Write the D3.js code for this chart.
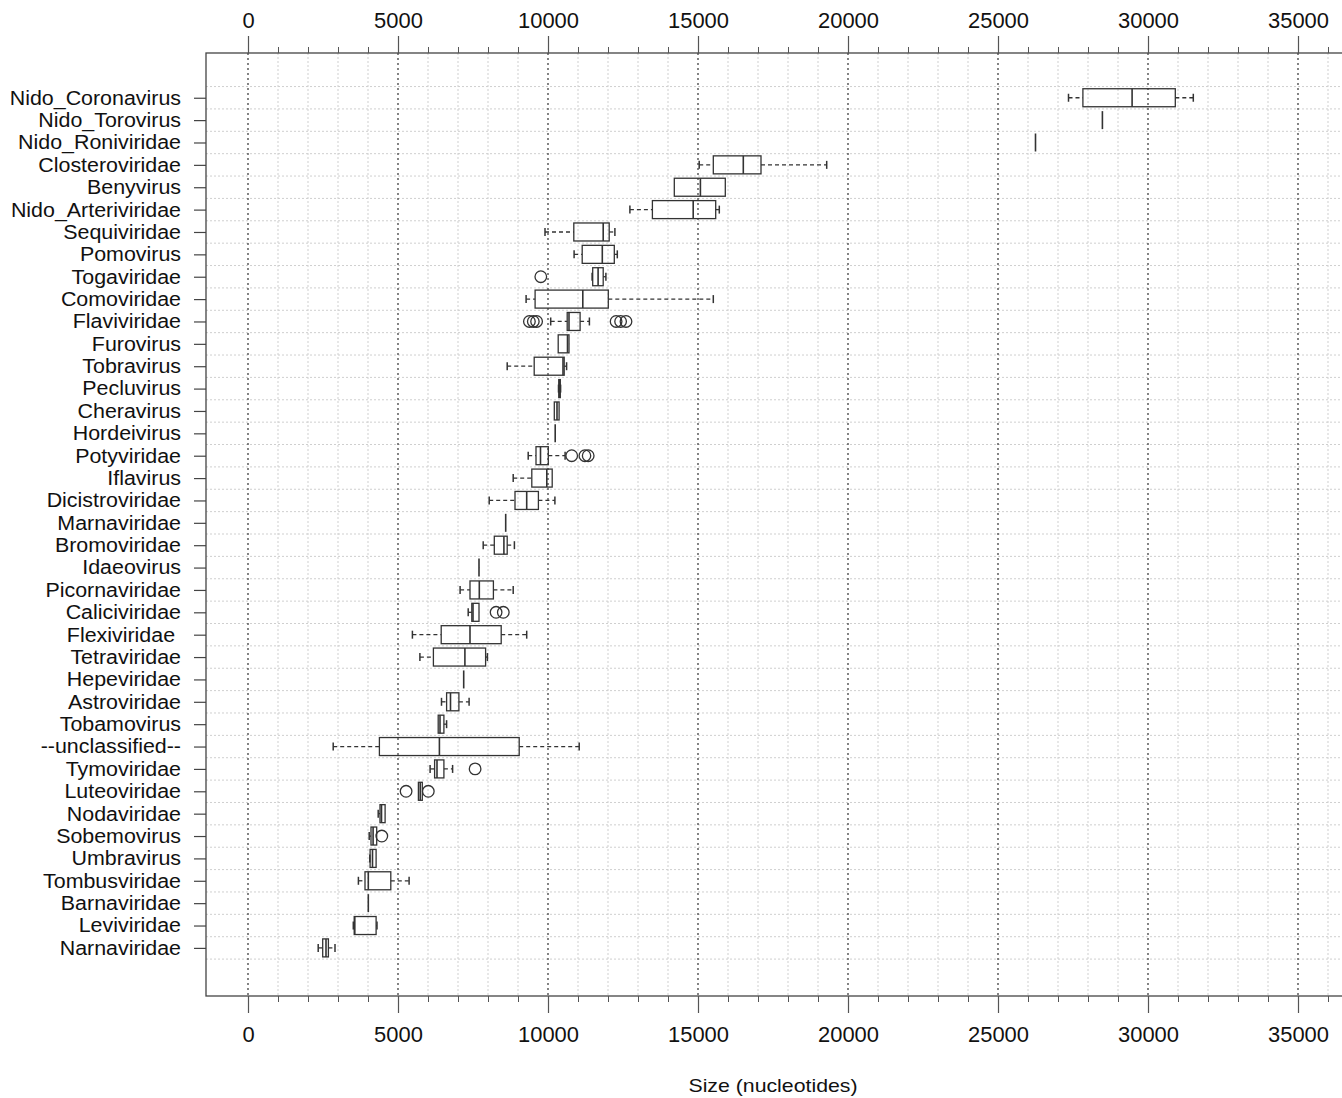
<!DOCTYPE html>
<html>
<head>
<meta charset="utf-8">
<script src="https://cdn.jsdelivr.net/npm/d3@7"></script>
<style>
  body { margin: 0; background: #fff; }
  text { font-family: "Liberation Sans", Arial, sans-serif; fill: #111; }
</style>
</head>
<body>
<script>
// categories, top to bottom
var families = ["Nido_Coronavirus", "Nido_Torovirus", "Nido_Roniviridae", "Closteroviridae", "Benyvirus",
  "Nido_Arteriviridae", "Sequiviridae", "Pomovirus", "Togaviridae", "Comoviridae", "Flaviviridae",
  "Furovirus", "Tobravirus", "Pecluvirus", "Cheravirus", "Hordeivirus", "Potyviridae", "Iflavirus",
  "Dicistroviridae", "Marnaviridae", "Bromoviridae", "Idaeovirus", "Picornaviridae", "Caliciviridae",
  "Flexiviridae ", "Tetraviridae", "Hepeviridae", "Astroviridae", "Tobamovirus", "--unclassified--",
  "Tymoviridae", "Luteoviridae", "Nodaviridae", "Sobemovirus", "Umbravirus", "Tombusviridae",
  "Barnaviridae", "Leviviridae", "Narnaviridae"];

// five-number summaries (nucleotides)
var lowWhisker = [27350, 28480, 26250, 15040, 14210, 12730, 9900, 10870, 11470, 9270, 10090,
  10340, 8640, 10350, 10210, 10240, 9340, 8840, 8040, 8590, 7840, 7700, 7070, 7340,
  5480, 5730, 7190, 6450, 6340, 2840, 6070, 5680, 4340, 4040, 4060, 3680,
  4010, 3510, 2340];
var q1 = [27830, 28480, 26250, 15510, 14210, 13480, 10860, 11140, 11490, 9570, 10640,
  10340, 9540, 10360, 10210, 10240, 9600, 9460, 8900, 8590, 8210, 7700, 7400, 7460,
  6440, 6180, 7190, 6620, 6340, 4380, 6220, 5680, 4400, 4100, 4070, 3900,
  4010, 3540, 2490];
var medians = [29470, 28480, 26250, 16510, 15080, 14840, 11840, 11810, 11670, 11160, 10700,
  10650, 10500, 10380, 10300, 10240, 9750, 9960, 9290, 8590, 8530, 7700, 7710, 7500,
  7400, 7230, 7190, 6750, 6400, 6380, 6300, 5740, 4450, 4170, 4150, 4010,
  4010, 3560, 2600];
var q3 = [30910, 28480, 26250, 17100, 15910, 15590, 12040, 12210, 11840, 12010, 11070,
  10700, 10540, 10410, 10370, 10240, 10010, 10140, 9680, 8590, 8640, 7700, 8180, 7700,
  8440, 7920, 7190, 7030, 6530, 9040, 6530, 5810, 4570, 4290, 4270, 4760,
  4010, 4270, 2680];
var highWhisker = [31510, 28480, 26250, 19290, 15910, 15710, 12230, 12310, 11930, 15510, 11380,
  10700, 10620, 10420, 10370, 10240, 10570, 10140, 10230, 8590, 8880, 7700, 8840, 7700,
  9290, 7980, 7190, 7370, 6620, 11040, 6820, 5810, 4570, 4290, 4270, 5370,
  4010, 4300, 2900];
// outliers per category
var outliers = [[], [], [], [], [], [], [], [], [9760], [], [9380, 9510, 9620, 12270, 12420, 12600],
  [], [], [], [], [], [10790, 11230, 11340], [], [], [], [], [], [], [8270, 8510],
  [], [], [], [], [], [], [7570], [5270, 6010], [], [4460], [], [],
  [], [], []];

var xTicks = [0, 5000, 10000, 15000, 20000, 25000, 30000, 35000];
var minorTicks = d3.range(0, 36001, 1000);

var W = 1342, H = 1098;
var plotL = 206, plotR = 1342, plotT = 53, plotB = 996;

var svg = d3.select("body").append("svg")
  .attr("width", W)
  .attr("height", H);

var x = d3.scaleLinear().domain([0, 35000]).range([248, 1298]);
var y = d3.scaleLinear().domain([-2.0, 40.15]).range([plotT, plotB]);

var idx = d3.range(families.length);

// stretch text a little wider, like the scanned figure
function widen(sel, k) {
  sel.each(function () {
    var w = this.getComputedTextLength();
    d3.select(this).attr("textLength", w * k).attr("lengthAdjust", "spacingAndGlyphs");
  });
}

// grid
var grid = svg.append("g");
grid.selectAll("line.vmin")
  .data(minorTicks.filter(function (d) { return d % 5000 != 0; }))
  .enter().append("line")
  .attr("x1", function (d) { return x(d); }).attr("x2", function (d) { return x(d); })
  .attr("y1", plotT).attr("y2", plotB)
  .attr("stroke", "#cfcfcf").attr("stroke-width", 1).attr("stroke-dasharray", "2,2");
grid.selectAll("line.h")
  .data(d3.range(families.length + 1))
  .enter().append("line")
  .attr("x1", plotL).attr("x2", plotR)
  .attr("y1", function (d) { return y(d - 0.5); }).attr("y2", function (d) { return y(d - 0.5); })
  .attr("stroke", "#cfcfcf").attr("stroke-width", 1).attr("stroke-dasharray", "2,2");
grid.selectAll("line.vmaj")
  .data(xTicks)
  .enter().append("line")
  .attr("x1", function (d) { return x(d); }).attr("x2", function (d) { return x(d); })
  .attr("y1", plotT).attr("y2", plotB)
  .attr("stroke", "#333").attr("stroke-width", 1.2).attr("stroke-dasharray", "2,3");

// frame
svg.append("rect")
  .attr("x", plotL).attr("y", plotT)
  .attr("width", plotR - plotL + 5).attr("height", plotB - plotT)
  .attr("fill", "none").attr("stroke", "#444").attr("stroke-width", 1.3);

// axes top and bottom
var topAxis = d3.axisTop(x).tickValues(xTicks).tickSize(17).tickPadding(8).tickFormat(d3.format("d"));
var botAxis = d3.axisBottom(x).tickValues(xTicks).tickSize(17).tickPadding(14).tickFormat(d3.format("d"));
var minorFilter = minorTicks.filter(function (d) { return d % 5000 != 0; });

var gTop = svg.append("g").attr("transform", "translate(0," + plotT + ")").call(topAxis);
var gBot = svg.append("g").attr("transform", "translate(0," + plotB + ")").call(botAxis);
[gTop, gBot].forEach(function (g) {
  g.select(".domain").remove();
  g.selectAll("line").attr("stroke", "#555").attr("stroke-width", 1.2);
  g.selectAll("text").style("font-size", "21.5px").style("font-family", "Liberation Sans, Arial, sans-serif").attr("fill", "#111");
  widen(g.selectAll("text"), 1.02);
});
svg.append("g").attr("transform", "translate(0," + plotT + ")")
  .call(d3.axisTop(x).tickValues(minorFilter).tickSize(6).tickFormat(""))
  .call(function (g) { g.select(".domain").remove(); g.selectAll("line").attr("stroke", "#555"); });
svg.append("g").attr("transform", "translate(0," + plotB + ")")
  .call(d3.axisBottom(x).tickValues(minorFilter).tickSize(6).tickFormat(""))
  .call(function (g) { g.select(".domain").remove(); g.selectAll("line").attr("stroke", "#555"); });

// left axis with family names
var yAxis = d3.axisLeft(y).tickValues(idx).tickSize(12).tickPadding(13)
  .tickFormat(function (i) { return families[i]; });
var gLeft = svg.append("g").attr("transform", "translate(" + plotL + ",0)").call(yAxis);
gLeft.select(".domain").remove();
gLeft.selectAll("line").attr("stroke", "#444").attr("stroke-width", 1.2);
gLeft.selectAll("text").style("font-size", "20px").style("font-family", "Liberation Sans, Arial, sans-serif")
  .attr("fill", "#111").style("white-space", "pre");
widen(gLeft.selectAll("text"), 1.07);

// boxes
var bh = 9, capH = 4;
var boxes = svg.append("g").attr("stroke", "#333").attr("fill", "none");
var grp = boxes.selectAll("g.box").data(idx).enter().append("g");

grp.append("line")   // lower whisker
  .attr("x1", function (i) { return x(lowWhisker[i]); }).attr("x2", function (i) { return x(q1[i]); })
  .attr("y1", function (i) { return y(i); }).attr("y2", function (i) { return y(i); })
  .attr("stroke-dasharray", "4,3").attr("stroke-width", 1.3);
grp.append("line")   // upper whisker
  .attr("x1", function (i) { return x(q3[i]); }).attr("x2", function (i) { return x(highWhisker[i]); })
  .attr("y1", function (i) { return y(i); }).attr("y2", function (i) { return y(i); })
  .attr("stroke-dasharray", "4,3").attr("stroke-width", 1.3);
grp.filter(function (i) { return lowWhisker[i] < q1[i]; }).append("line")
  .attr("x1", function (i) { return x(lowWhisker[i]); }).attr("x2", function (i) { return x(lowWhisker[i]); })
  .attr("y1", function (i) { return y(i) - capH; }).attr("y2", function (i) { return y(i) + capH; })
  .attr("stroke-width", 1.5);
grp.filter(function (i) { return highWhisker[i] > q3[i]; }).append("line")
  .attr("x1", function (i) { return x(highWhisker[i]); }).attr("x2", function (i) { return x(highWhisker[i]); })
  .attr("y1", function (i) { return y(i) - capH; }).attr("y2", function (i) { return y(i) + capH; })
  .attr("stroke-width", 1.5);
grp.append("rect")
  .attr("x", function (i) { return x(q1[i]); })
  .attr("width", function (i) { return Math.max(0, x(q3[i]) - x(q1[i])); })
  .attr("y", function (i) { return y(i) - bh; })
  .attr("height", 2 * bh)
  .attr("stroke-width", 1.3);
grp.append("line")   // median
  .attr("x1", function (i) { return x(medians[i]); }).attr("x2", function (i) { return x(medians[i]); })
  .attr("y1", function (i) { return y(i) - bh; }).attr("y2", function (i) { return y(i) + bh; })
  .attr("stroke-width", 1.6);

// outliers
boxes.selectAll("circle")
  .data(idx.flatMap(function (i) { return outliers[i].map(function (v) { return { i: i, v: v }; }); }))
  .enter().append("circle")
  .attr("cx", function (d) { return x(d.v); })
  .attr("cy", function (d) { return y(d.i); })
  .attr("r", 5.8)
  .attr("stroke-width", 1.3);

// axis title
var title = svg.append("text")
  .attr("x", x(17500)).attr("y", 1092)
  .attr("text-anchor", "middle")
  .style("font-size", "18.5px")
  .text("Size (nucleotides)");
widen(title, 1.15);
</script>
</body>
</html>
